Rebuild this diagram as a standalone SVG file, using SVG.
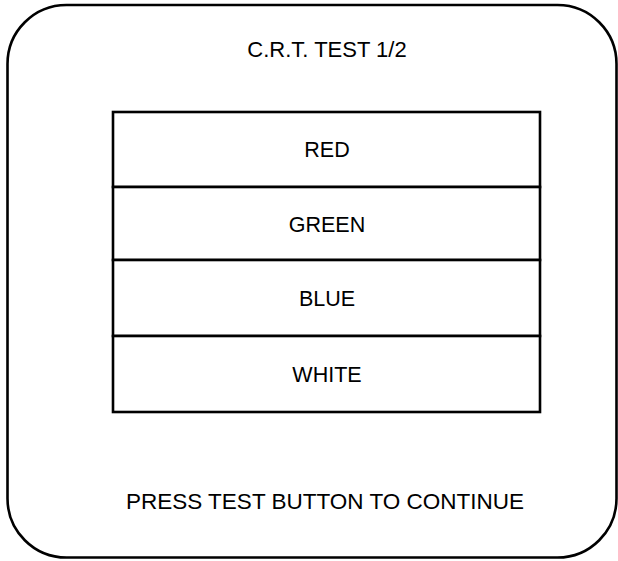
<svg xmlns="http://www.w3.org/2000/svg" width="618" height="561" viewBox="0 0 618 561">
<style>
.frame{fill:none;stroke:#000;stroke-width:2.6}
.cell{fill:#fff;stroke:#000;stroke-width:2.6}
.t{font-family:"Liberation Sans",Arial,sans-serif;fill:#000;text-anchor:middle}
</style>
<rect width="618" height="561" fill="#fff"/>
<g id="screen">
<rect class="frame" x="7.5" y="5" width="609" height="552.5" rx="59" ry="59"/>
</g>
<g id="title"><text class="t" x="327" y="57" font-size="22">C.R.T. TEST 1/2</text></g>
<g id="menu">
<g id="red"><rect class="cell" x="113" y="112" width="427" height="75"/><text class="t" x="327" y="157" font-size="21.5">RED</text></g>
<g id="green"><rect class="cell" x="113" y="187" width="427" height="73"/><text class="t" x="327" y="231.5" font-size="21.5">GREEN</text></g>
<g id="blue"><rect class="cell" x="113" y="260" width="427" height="76"/><text class="t" x="327" y="305.5" font-size="21.5">BLUE</text></g>
<g id="white"><rect class="cell" x="113" y="336" width="427" height="76"/><text class="t" x="327" y="382" font-size="21.5">WHITE</text></g>
</g>
<g id="prompt"><text class="t" x="325" y="509" font-size="22.5">PRESS TEST BUTTON TO CONTINUE</text></g>
<g id="connectors"/>
</svg>
